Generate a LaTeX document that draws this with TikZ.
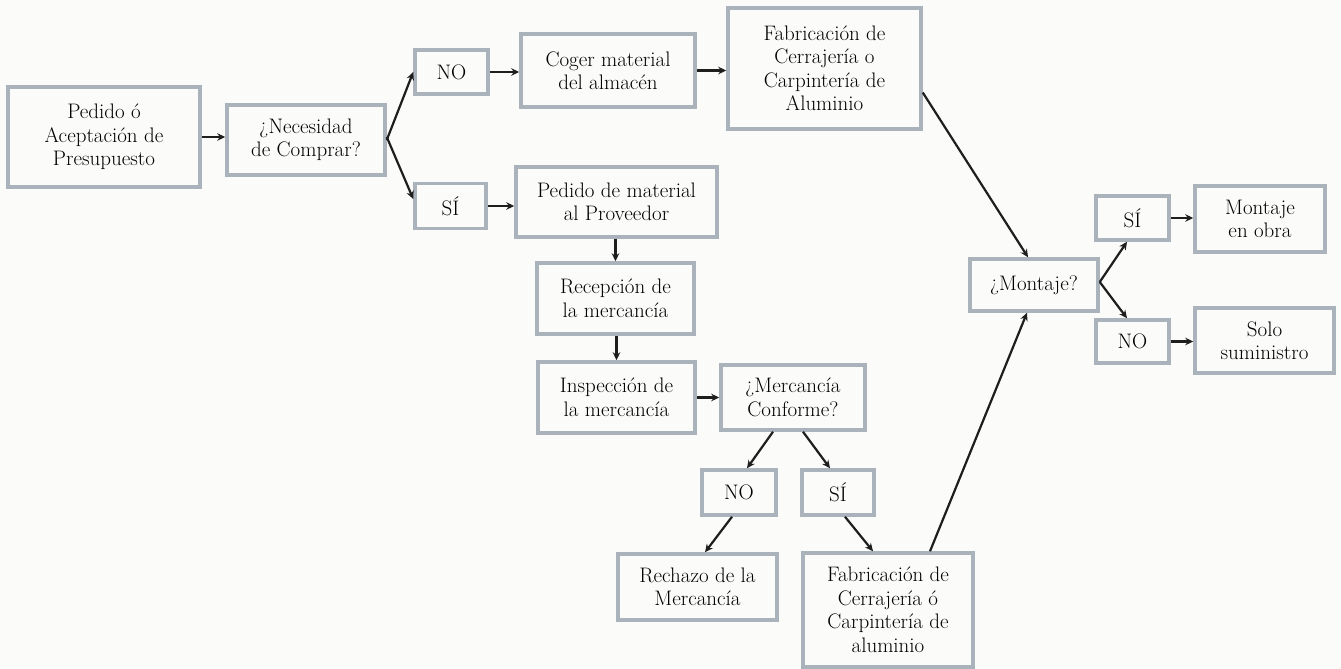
\documentclass[tikz,border=0pt]{standalone}
\usepackage{fontspec}
\usetikzlibrary{arrows.meta}
\definecolor{boxline}{RGB}{170,178,188}
\definecolor{arrowc}{RGB}{30,30,30}
\definecolor{paper}{RGB}{251,251,249}
\begin{document}
\begin{tikzpicture}[x=1pt,y=-1pt,
  box/.style={draw=boxline, line width=3.5pt, fill=paper, align=center, inner sep=0pt,
    font=\fontsize{21}{23.5}\selectfont, text=black},
  arr/.style={draw=arrowc, line width=2.2pt, -{Stealth[length=8pt,width=7.5pt]}}]
\fill[paper] (0,0) rectangle (1341,669);
\useasboundingbox (0,0) rectangle (1341,669);
% nodes
\node[box, minimum width=192pt, minimum height=100pt] (ped) at (104,137) {Pedido ó\\Aceptación de\\Presupuesto};
\node[box, minimum width=158pt, minimum height=70pt] (nec) at (306,140) {¿Necesidad\\de Comprar?};
\node[box, minimum width=73pt, minimum height=44pt] (no1) at (451.5,72) {NO};
\node[box, minimum width=174pt, minimum height=73pt] (cog) at (608,70.5) {Coger material\\del almacén};
\node[box, minimum width=193pt, minimum height=121pt] (fab1) at (824.5,68.5) {Fabricación de\\Cerrajería o\\Carpintería de\\Aluminio};
\node[box, minimum width=71pt, minimum height=45pt] (si1) at (450.5,206) {SÍ};
\node[box, minimum width=201pt, minimum height=70pt] (pmat) at (616.5,202) {Pedido de material\\al Proveedor};
\node[box, minimum width=157pt, minimum height=71pt] (rec) at (615.5,298.5) {Recepción de\\la mercancía};
\node[box, minimum width=157pt, minimum height=71pt] (ins) at (616.5,397.5) {Inspección de\\la mercancía};
\node[box, minimum width=144pt, minimum height=65pt] (mer) at (793,397.5) {¿Mercancía\\Conforme?};
\node[box, minimum width=74pt, minimum height=45pt] (no2) at (739,492.5) {NO};
\node[box, minimum width=72pt, minimum height=45pt] (si2) at (838,492.5) {SÍ};
\node[box, minimum width=159pt, minimum height=66pt] (rech) at (697.5,587) {Rechazo de la\\Mercancía};
\node[box, minimum width=170pt, minimum height=114pt] (fab2) at (888,610) {Fabricación de\\Cerrajería ó\\Carpintería de\\aluminio};
\node[box, minimum width=128pt, minimum height=52pt] (mon) at (1034,285) {¿Montaje?};
\node[box, minimum width=73pt, minimum height=44pt] (si3) at (1132.5,218) {SÍ};
\node[box, minimum width=130pt, minimum height=66pt] (mobra) at (1260,219) {Montaje\\en obra};
\node[box, minimum width=73pt, minimum height=43pt] (no3) at (1132.5,341.5) {NO};
\node[box, minimum width=139pt, minimum height=65pt] (solo) at (1264.5,340.5) {Solo\\suministro};
% connectors
\draw[arr] (ped.east) -- (nec.west |- ped.east);
\draw[arr] (nec.east) -- (no1.west);
\draw[arr] ([yshift=3pt]nec.east) -- ([yshift=7pt]si1.west);
\draw[arr] (no1.east) -- (cog.west |- no1.east);
\draw[arr] (cog.east) -- (fab1.west |- cog.east);
\draw[arr] (si1.east) -- (pmat.west |- si1.east);
\draw[arr] (pmat.south -| rec.north) -- (rec.north);
\draw[arr] (rec.south -| ins.north) -- (ins.north);
\draw[arr] (ins.east) -- (mer.west |- ins.east);
\draw[arr] ([xshift=-20pt]mer.south) -- ([xshift=8pt]no2.north);
\draw[arr] ([xshift=10pt]mer.south) -- ([xshift=-8pt]si2.north);
\draw[arr] ([xshift=-7pt]no2.south) -- ([xshift=7.5pt]rech.north);
\draw[arr] ([xshift=7pt]si2.south) -- ([xshift=-15pt]fab2.north);
\draw[arr] ([xshift=42pt]fab2.north) -- ([xshift=-7pt]mon.south);
\draw[arr] ([yshift=-24pt]fab1.east) -- ([xshift=-6pt]mon.north);
\draw[arr] ([yshift=3pt]mon.east) -- ([xshift=-5.5pt]si3.south);
\draw[arr] ([yshift=3pt]mon.east) -- ([xshift=-5.5pt]no3.north);
\draw[arr] (si3.east) -- (mobra.west |- si3.east);
\draw[arr] (no3.east) -- (solo.west |- no3.east);
\end{tikzpicture}
\end{document}
